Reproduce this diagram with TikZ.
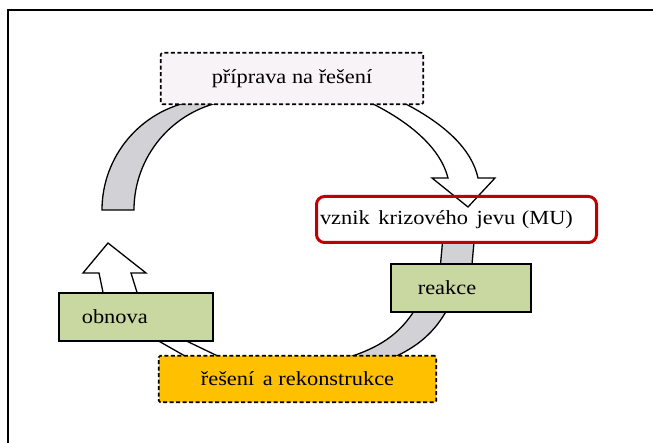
\documentclass[tikz,border=0pt]{standalone}
\usepackage{fontspec}
\setmainfont{Liberation Serif}[FakeStretch=1.12]
\definecolor{bandgray}{RGB}{210,210,214}
\definecolor{phasegreen}{RGB}{200,216,160}
\definecolor{crisisred}{RGB}{192,0,0}
\definecolor{prepfill}{RGB}{247,243,247}
\definecolor{solveorange}{RGB}{255,192,0}

\begin{document}
\begin{tikzpicture}[x=1pt,y=1pt,
        every node/.style={font=\fontsize{20}{24}\selectfont,inner ysep=0pt},
        stage node/.style={draw,line width=1.6,dash pattern=on 4pt off 2.5pt,rounded corners=1.5,inner xsep=0pt},
        phase node/.style={draw,line width=1.6,fill=phasegreen,align=left},
        band/.style={draw,line width=1.3,fill=bandgray},
        flow/.style={draw,line width=1.3,fill=white}]
        \useasboundingbox (0,0) rectangle (653,442);
        \clip (0,0) rectangle (653,442);

        % frame
        \draw[line width=2] (8,-10) -- (8,432) -- (680,432);

        % arrows of the cycle
        \draw[band] (102,232) arc[start angle=180,end angle=100,radius=110.5]
            -- (225.3,340.8) arc[start angle=100,end angle=180,radius=110.5] -- cycle;
        \draw[flow] (148,107) -- (192,82) -- (226,82) -- (174,107) -- cycle;
        \draw[band] (416,134) .. controls (400,108) and (380,94) .. (343,83)
            -- (390,83) .. controls (418,95) and (435,110) .. (448,134) -- cycle;
        \draw[band] (442.5,200) -- (440,172) -- (471.5,172) -- (474,200) -- cycle;
        \draw[flow] (105,140) -- (99,169) -- (83,169) -- (108,199) -- (146,169) -- (131,169) -- (140,140) -- cycle;
        \draw[flow] (367,341) .. controls (413,319) and (441,292) .. (448,264)
            -- (432,264) -- (468,235) -- (495,264) -- (478,264)
            .. controls (472,292) and (446,318) .. (400,341) -- cycle;

        % phases
        \node[stage node, fill=prepfill, minimum width=262.5, minimum height=51.5] at (292,363.5) (prep) {příprava na řešení};
        \node[stage node, fill=solveorange, minimum width=277.5, minimum height=46.5] at (297.5,63) (solve) {řešení\hspace{3pt} a rekonstrukce};
        \node[draw=crisisred, line width=3, rounded corners=8, align=left, inner xsep=3.5, text width=273, minimum height=46] at (456.5,222.5) (crisis) {vznik\hspace{2pt} krizového\hspace{2pt} jevu (MU)};
        \node[phase node, inner xsep=27, text width=86.4, minimum height=48.4] at (461,154) (react) {reakce};
        \node[phase node, inner xsep=23, text width=108.4, minimum height=48.4] at (136,125) (renew) {obnova};
\end{tikzpicture}
\end{document}
